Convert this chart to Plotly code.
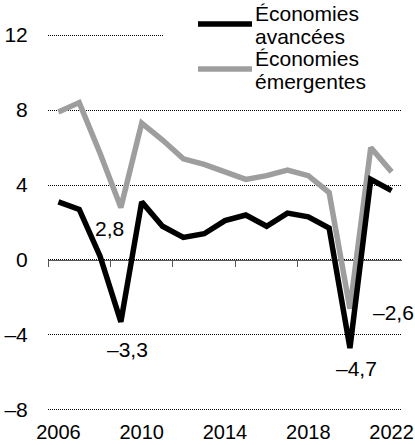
import plotly.graph_objects as go

years = list(range(2006, 2023))
avancees = [3.1, 2.7, 0.2, -3.3, 3.1, 1.8, 1.2, 1.4, 2.1, 2.4, 1.8, 2.5, 2.3, 1.7, -4.7, 4.3, 3.7]
emergentes = [7.9, 8.4, 5.7, 2.8, 7.3, 6.4, 5.4, 5.1, 4.7, 4.3, 4.5, 4.8, 4.5, 3.6, -2.6, 6.0, 4.7]
series_names = ["Économies avancées", "Économies émergentes"]
x_ticks = [2006, 2010, 2014, 2018, 2022]
y_ticks = [-8, -4, 0, 4, 8, 12]
y_ticktext = ["–8", "–4", "0", "4", "8", "12"]
boundary_ticks = [2005.5, 2008.5, 2011.5, 2014.5, 2017.5, 2020.5]

FONT = "Liberation Sans, Arial, sans-serif"
BLACK = "#000000"
GREY = "#9e9e9e"

fig = go.Figure()
# invisible trace to create the zero-line axis subplot
fig.add_trace(go.Scatter(x=years, y=[None] * len(years), xaxis="x2", yaxis="y",
                         showlegend=False, hoverinfo="skip"))
fig.add_trace(go.Scatter(x=years, y=emergentes, mode="lines", name=series_names[1],
                         line=dict(color=GREY, width=5.5), showlegend=False))
fig.add_trace(go.Scatter(x=years, y=avancees, mode="lines", name=series_names[0],
                         line=dict(color=BLACK, width=5.5), showlegend=False))

# value labels
def fmt(v):
    s = f"{abs(v):.1f}".replace(".", ",")
    return ("–" + s) if v < 0 else s

labels = [
    (2009, emergentes[3], -11, -21),
    (2009, avancees[3], 7, -28),
    (2020, avancees[14], 7, -20),
    (2020, emergentes[14], 44, -4),
]
for x, v, xs, ys in labels:
    fig.add_annotation(x=x, y=v, text=fmt(v), showarrow=False, xshift=xs, yshift=ys,
                       font=dict(family=FONT, size=21, color="#000"))

# legend (custom)
W, H = 415, 445
L, R, T, B = 48, 13, 34, 34
pw, ph = W - L - R, H - T - B
def px(x):
    return (x - L) / pw
def py(y):
    return (H - B - y) / ph

fig.add_shape(type="rect", xref="paper", yref="paper", x0=px(163), x1=px(415), y0=py(104), y1=py(0),
              fillcolor="white", line=dict(width=0), layer="above")
legend_items = [(series_names[0], BLACK, 24, ["Économies", "avancées"]),
                (series_names[1], GREY, 69, ["Économies", "émergentes"])]
for name, col, yy, lines in legend_items:
    fig.add_shape(type="line", xref="paper", yref="paper", x0=px(198), x1=px(252), y0=py(yy), y1=py(yy),
                  line=dict(color=col, width=5.5), layer="above")
    for i, t in enumerate(lines):
        fig.add_annotation(xref="paper", yref="paper", x=px(253), y=py(yy + 3 + i * 23),
                           text=t, showarrow=False, xanchor="left", yanchor="bottom",
                           font=dict(family=FONT, size=21, color="#000"))

fig.update_layout(
    width=W, height=H, autosize=False,
    margin=dict(l=L, r=R, t=T, b=B, pad=0),
    paper_bgcolor="white", plot_bgcolor="white",
    font=dict(family=FONT, size=21, color="#000"),
    showlegend=False,
    xaxis=dict(range=[2005.5, 2022.5], tickvals=x_ticks, showgrid=False, zeroline=False,
               showline=False, ticks="outside", ticklen=3, tickcolor="rgba(0,0,0,0)",
               automargin=False,
               tickfont=dict(family=FONT, size=20, color="#000")),
    xaxis2=dict(range=[2005.5, 2022.5], overlaying="x", anchor="free", position=0.4,
                showline=True, linecolor="#555", linewidth=1, ticks="outside", ticklen=6,
                tickcolor="#555", tickwidth=1, tickvals=boundary_ticks, showticklabels=False,
                showgrid=False, zeroline=False, layer="below traces", automargin=False),
    yaxis=dict(range=[-8.06, 12.06], tickvals=y_ticks, ticktext=y_ticktext, showgrid=True,
               gridcolor="#000", gridwidth=1, griddash="1px,1px", zeroline=False,
               showline=False, ticks="outside", ticklen=15, tickcolor="rgba(0,0,0,0)",
               automargin=False,
               tickfont=dict(family=FONT, size=21, color="#000")),
)

fig.write_html("out.html", config={"displayModeBar": False},
               post_script="document.body.style.margin='0';document.body.style.overflow='hidden';")
